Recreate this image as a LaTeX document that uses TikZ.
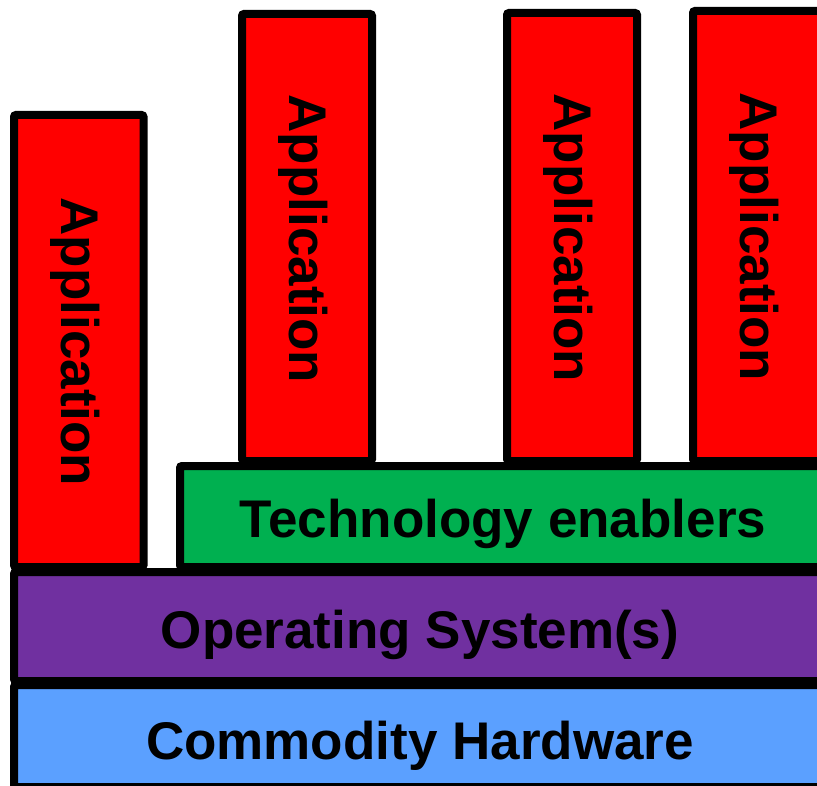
\documentclass[tikz,border=0pt]{standalone}
\usepackage{fontspec}
\setmainfont{Liberation Sans}
\definecolor{appred}{RGB}{255,0,0}
\definecolor{techgreen}{RGB}{0,176,80}
\definecolor{ospurple}{RGB}{112,48,160}
\definecolor{hwblue}{RGB}{91,160,255}
\tikzset{
  layer/.style={draw=black, line width=8pt, rounded corners=2pt},
  lbl/.style={font=\fontsize{53}{60}\selectfont\bfseries, inner sep=0pt},
}
\begin{document}
\begin{tikzpicture}[x=1pt,y=-1pt]
\useasboundingbox (0,0) rectangle (817,786);
\clip (0,0) rectangle (817,786);
% applications
\draw[layer, fill=appred] (14,115) rectangle (143.5,567);
\draw[layer, fill=appred] (242,14) rectangle (372,461);
\draw[layer, fill=appred] (507,13) rectangle (637,461);
\draw[layer, fill=appred] (693,11) rectangle (823,461);
% layers
\draw[layer, fill=techgreen] (180,466) rectangle (830,567);
\draw[layer, fill=ospurple] (14,572) rectangle (830,681);
\draw[layer, fill=hwblue] (14,685) rectangle (830,787);
% labels
\node[lbl, rotate=-90] (a1) at (75,342) {Application};
\node[lbl, rotate=-90] (a2) at (303,239) {Application};
\node[lbl, rotate=-90] (a3) at (568,238) {Application};
\node[lbl, rotate=-90] (a4) at (754,237) {Application};
\node[lbl, anchor=base] (tech) at (503,537) {Technology enablers};
\node[lbl, anchor=base] (os) at (420,648) {Operating System(s)};
\node[lbl, anchor=base] (hw) at (420,759) {Commodity Hardware};
\end{tikzpicture}
\end{document}
